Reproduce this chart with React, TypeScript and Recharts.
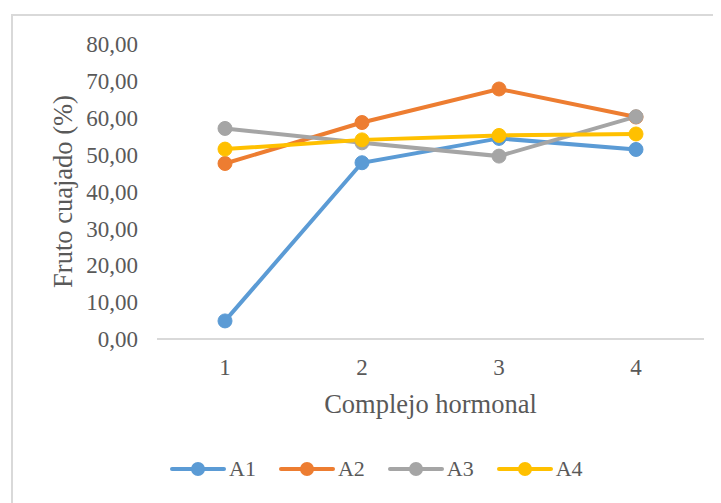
import React from "react";
import { CartesianGrid, Legend, Line, LineChart, XAxis, YAxis } from "recharts";

const categories = ["1", "2", "3", "4"];
const a1 = [4.9, 47.8, 54.4, 51.4];
const a2 = [47.6, 58.7, 67.8, 60.2];
const a3 = [57.1, 53.2, 49.6, 60.3];
const a4 = [51.5, 54.0, 55.2, 55.6];
const yTicks = [0, 10, 20, 30, 40, 50, 60, 70, 80];

const SERIES = [
  { key: "A1", color: "#5B9BD5" },
  { key: "A2", color: "#ED7D31" },
  { key: "A3", color: "#A5A5A5" },
  { key: "A4", color: "#FFC000" },
];

const FONT = "'Times New Roman', 'Liberation Serif', serif";
const TEXT = "#595959";

const data = categories.map((c, i) => ({
  name: c,
  A1: a1[i],
  A2: a2[i],
  A3: a3[i],
  A4: a4[i],
}));

const fmt = (v: number) => v.toFixed(2).replace(".", ",");

const LegendContent = () => (
  <div style={{ display: "flex", alignItems: "center", fontFamily: FONT }}>
    {SERIES.map((s) => (
      <div key={s.key} style={{ display: "flex", alignItems: "center", marginRight: 23 }}>
        <svg width={56} height={16}>
          <line x1={2} y1={8} x2={54} y2={8} stroke={s.color} strokeWidth={4} strokeLinecap="round" />
          <circle cx={28} cy={8} r={7} fill={s.color} />
        </svg>
        <span style={{ color: TEXT, fontSize: 22, marginLeft: 3, lineHeight: "22px" }}>{s.key}</span>
      </div>
    ))}
  </div>
);

const App = () => {
  return (
    <div style={{ position: "relative", width: 713, height: 495 }}>
      <div
        style={{
          position: "absolute",
          left: 3,
          top: 6,
          width: 720,
          height: 500,
          borderTop: "2px solid #d9d9d9",
          borderLeft: "2px solid #d9d9d9",
        }}
      />
      <div style={{ position: "absolute", left: 0, top: 0 }}>
        <LineChart
          width={713}
          height={495}
          data={data}
          margin={{ top: 36, right: 17, left: 0, bottom: 134 }}
        >
          <CartesianGrid horizontal={false} vertical={false} />
          <XAxis
            dataKey="name"
            scale="point"
            padding={{ left: 68, right: 68 }}
            height={30}
            axisLine={{ stroke: "#d9d9d9", strokeWidth: 2 }}
            tickLine={false}
            tickSize={0}
            tickMargin={20}
            tick={{ fill: TEXT, fontSize: 23, fontFamily: FONT }}
            label={{
              value: "Complejo hormonal",
              position: "bottom",
              offset: 25,
              fill: TEXT,
              fontSize: 26.5,
              fontFamily: FONT,
            }}
          />
          <YAxis
            width={149}
            domain={[0, 80]}
            ticks={yTicks}
            tickFormatter={fmt}
            axisLine={false}
            tickLine={false}
            tickSize={0}
            tickMargin={19}
            tick={{ fill: TEXT, fontSize: 23, fontFamily: FONT }}
            label={{
              value: "Fruto cuajado (%)",
              angle: -90,
              position: "center",
              dx: -20,
              fill: TEXT,
              fontSize: 26.5,
              fontFamily: FONT,
            }}
          />
          <Legend
            layout="horizontal"
            verticalAlign="middle"
            wrapperStyle={{ top: 450, left: 162, width: "auto" }}
            content={() => <LegendContent />}
          />
          {SERIES.map((s) => (
            <Line
              key={s.key}
              dataKey={s.key}
              stroke={s.color}
              strokeWidth={4}
              dot={{ r: 7, fill: s.color, stroke: s.color, strokeWidth: 1 }}
              activeDot={false}
              isAnimationActive={false}
            />
          ))}
        </LineChart>
      </div>
    </div>
  );
};

export default App;
